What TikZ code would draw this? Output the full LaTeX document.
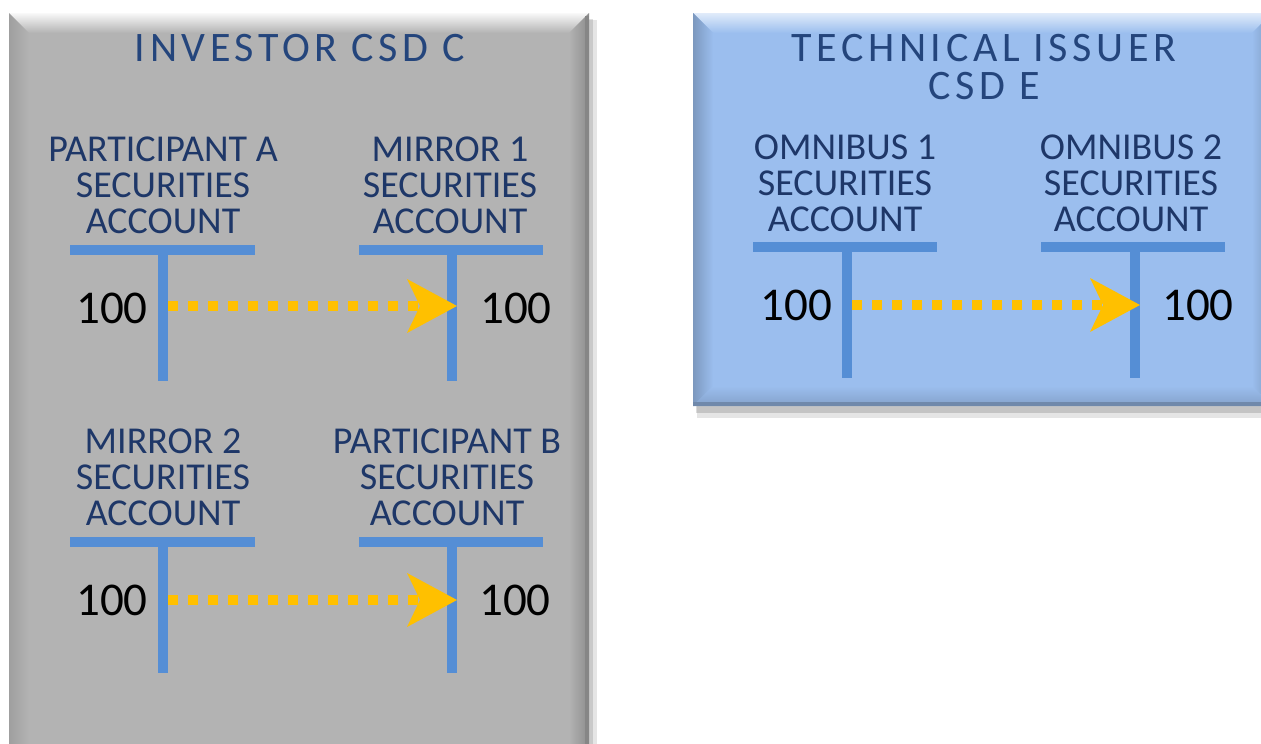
\documentclass[tikz,border=0pt]{standalone}
\usepackage{fontspec}
\setmainfont{Carlito}
\newfontfamily\ttlfont[LetterSpace=11]{Carlito}
\usetikzlibrary{arrows.meta}
\definecolor{grayfill}{HTML}{B3B3B3}
\definecolor{bluefill}{HTML}{9BBEEE}
\definecolor{navy}{HTML}{1E3768}
\definecolor{ttlnavy}{HTML}{24457C}
\definecolor{tline}{HTML}{558ED5}
\definecolor{flowyellow}{HTML}{FFC000}
\tikzset{
  tbar/.style={draw=tline, line width=10pt, line cap=butt},
  acclabel/.style={text=navy, align=center, inner sep=0pt, anchor=south,
    font=\fontsize{38}{36}\selectfont},
  boxtitle/.style={text=ttlnavy, align=center, inner sep=0pt,
    font=\ttlfont\fontsize{42}{38}\selectfont},
  amount/.style={text=black, inner sep=0pt, font=\fontsize{47}{47}\selectfont},
  flow/.style={draw=flowyellow, line width=10pt, dash pattern=on 10pt off 10pt,
    -{Stealth[length=50pt, width=54pt, inset=13pt, line width=0pt]}},
}
\begin{document}
\begin{tikzpicture}[x=1pt, y=-1pt]
\useasboundingbox (0,0) rectangle (1261,744);
\clip (0,0) rectangle (1261,744);
\fill[white] (0,0) rectangle (1261,744);

% ---------- gray box (Investor CSD C) ----------
\fill[black, opacity=0.10] (13,20) rectangle (597,790);
\fill[black, opacity=0.12] (12,19) rectangle (593,790);
\fill[grayfill] (9,13) rectangle (589,780);
\shade[top color=white!95!gray, bottom color=grayfill]
  (9,13) -- (589,13) -- (569,33) -- (29,33) -- cycle;
\shade[left color=gray!75, middle color=gray!52, right color=grayfill]
  (9,13) -- (29,33) -- (29,760) -- (9,780) -- cycle;
\shade[left color=grayfill, right color=gray!90]
  (589,13) -- (569,33) -- (569,760) -- (589,780) -- cycle;
\fill[gray!95] (585,16) rectangle (589,780);

% ---------- blue box (Technical issuer CSD E) ----------
\fill[black, opacity=0.10] (697,20) rectangle (1280,418);
\fill[black, opacity=0.14] (696,19) rectangle (1280,413);
\fill[bluefill] (693,13) rectangle (1272,406);
\shade[top color=bluefill!30!white, bottom color=bluefill]
  (693,13) -- (1272,13) -- (1252,33) -- (713,33) -- cycle;
\shade[left color=bluefill!80!black, middle color=bluefill!85!white, right color=bluefill]
  (693,13) -- (713,33) -- (713,386) -- (693,406) -- cycle;
\shade[top color=bluefill, bottom color=bluefill!85!black]
  (693,406) -- (1272,406) -- (1252,386) -- (713,386) -- cycle;
\shade[left color=bluefill, right color=bluefill!80!black]
  (1272,13) -- (1252,33) -- (1252,386) -- (1272,406) -- cycle;
\fill[bluefill!72!black] (693,402) rectangle (1272,406);

% ---------- titles ----------
\node[boxtitle] (titleC) at (300,48) {INVESTOR CSD C};
\node[boxtitle] (titleE) at (984,67) {TECHNICAL ISSUER\\CSD E};

% ---------- T accounts, investor CSD C ----------
\node[acclabel] (labPA) at (163,234) {PARTICIPANT A\\SECURITIES\\ACCOUNT};
\draw[tbar] (70,250) -- (255,250);
\draw[tbar] (163,250) -- (163,381);
\node[acclabel] (labM1) at (450,234) {MIRROR 1\\SECURITIES\\ACCOUNT};
\draw[tbar] (359,250) -- (543,250);
\draw[tbar] (452,250) -- (452,381);

\node[acclabel] (labM2) at (163,526) {MIRROR 2\\SECURITIES\\ACCOUNT};
\draw[tbar] (70,542) -- (255,542);
\draw[tbar] (163,542) -- (163,673);
\node[acclabel] (labPB) at (447,526) {PARTICIPANT B\\SECURITIES\\ACCOUNT};
\draw[tbar] (359,542) -- (543,542);
\draw[tbar] (452,542) -- (452,673);

\node[amount, anchor=east] (amtPA) at (148,308) {100};
\node[amount, anchor=west] (amtM1) at (480,308) {100};
\node[amount, anchor=east] (amtM2) at (148,600) {100};
\node[amount, anchor=west] (amtPB) at (479,600) {100};

\coordinate (fromPA) at (168,306);
\coordinate (toM1) at (457,306);
\coordinate (fromM2) at (168,600);
\coordinate (toPB) at (457,600);
\draw[flow] (fromPA) -- (toM1);
\draw[flow] (fromM2) -- (toPB);

% ---------- T accounts, technical issuer CSD E ----------
\node[acclabel] (labO1) at (845,232) {OMNIBUS 1\\SECURITIES\\ACCOUNT};
\draw[tbar] (753,247) -- (937,247);
\draw[tbar] (847,247) -- (847,378);
\node[acclabel] (labO2) at (1131,232) {OMNIBUS 2\\SECURITIES\\ACCOUNT};
\draw[tbar] (1041,247) -- (1225,247);
\draw[tbar] (1135,247) -- (1135,378);

\node[amount, anchor=east] (amtO1) at (832,305) {100};
\node[amount, anchor=west] (amtO2) at (1162,305) {100};

\coordinate (fromO1) at (852,305);
\coordinate (toO2) at (1140,305);
\draw[flow] (fromO1) -- (toO2);
\end{tikzpicture}
\end{document}
